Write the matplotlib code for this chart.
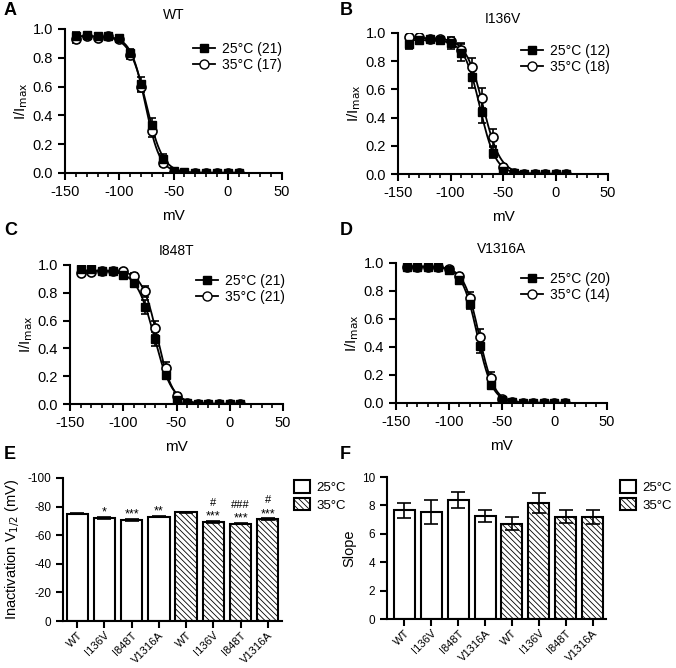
import numpy as np
import matplotlib
matplotlib.use("Agg")
import matplotlib.pyplot as plt
from matplotlib.ticker import MultipleLocator
from matplotlib.patches import Patch

plt.rcParams['font.family'] = ['Liberation Sans', 'DejaVu Sans']
plt.rcParams['hatch.linewidth'] = 0.6
plt.rcParams['axes.unicode_minus'] = False

# voltage steps (mV)
volts = [-140, -130, -120, -110, -100, -90, -80, -70, -60, -50, -40, -30, -20, -10, 0, 10]

# I/Imax, 25 and 35 degC, per channel
wt_25 = [0.95, 0.955, 0.95, 0.95, 0.935, 0.83, 0.62, 0.33, 0.10, 0.015, 0.005, 0, 0, 0, 0, 0]
wt_35 = [0.93, 0.95, 0.94, 0.95, 0.93, 0.82, 0.60, 0.29, 0.07, 0.01, 0, 0, 0, 0, 0, 0]
wt_25_err = [0.03, 0.02, 0.01, 0.01, 0.01, 0.03, 0.05, 0.05, 0.03, 0.01, 0, 0, 0, 0, 0, 0]
wt_35_err = [0.03, 0.02, 0.01, 0.01, 0.01, 0.03, 0.04, 0.04, 0.02, 0.01, 0, 0, 0, 0, 0, 0]

i136v_25 = [0.92, 0.95, 0.955, 0.95, 0.93, 0.86, 0.69, 0.44, 0.15, 0.02, 0.005, 0, 0, 0, 0, 0]
i136v_35 = [0.975, 0.97, 0.96, 0.955, 0.945, 0.88, 0.76, 0.54, 0.26, 0.05, 0.01, 0, 0, 0, 0, 0]
i136v_25_err = [0.03, 0.02, 0.01, 0.02, 0.04, 0.06, 0.08, 0.08, 0.04, 0.01, 0, 0, 0, 0, 0, 0]
i136v_35_err = [0.01, 0.01, 0.01, 0.01, 0.02, 0.05, 0.06, 0.07, 0.06, 0.02, 0, 0, 0, 0, 0, 0]

i848t_25 = [0.97, 0.97, 0.96, 0.96, 0.93, 0.87, 0.70, 0.47, 0.21, 0.03, 0.005, 0, 0, 0, 0, 0]
i848t_35 = [0.945, 0.95, 0.955, 0.96, 0.96, 0.92, 0.81, 0.55, 0.26, 0.06, 0.01, 0, 0, 0, 0, 0]
i848t_25_err = [0.01, 0.01, 0.01, 0.01, 0.02, 0.03, 0.05, 0.05, 0.03, 0.01, 0, 0, 0, 0, 0, 0]
i848t_35_err = [0.01, 0.01, 0.01, 0.01, 0.01, 0.02, 0.04, 0.05, 0.04, 0.02, 0, 0, 0, 0, 0, 0]

v1316a_25 = [0.97, 0.975, 0.975, 0.975, 0.95, 0.88, 0.71, 0.41, 0.13, 0.02, 0.005, 0, 0, 0, 0, 0]
v1316a_35 = [0.97, 0.975, 0.975, 0.975, 0.96, 0.91, 0.75, 0.47, 0.18, 0.03, 0.005, 0, 0, 0, 0, 0]
v1316a_25_err = [0.01, 0.01, 0.01, 0.01, 0.02, 0.03, 0.04, 0.05, 0.03, 0.01, 0, 0, 0, 0, 0, 0]
v1316a_35_err = [0.01, 0.01, 0.01, 0.01, 0.01, 0.02, 0.04, 0.06, 0.04, 0.01, 0, 0, 0, 0, 0, 0]

# bar charts
bar_labels = ['WT', 'I136V', 'I848T', 'V1316A', 'WT', 'I136V', 'I848T', 'V1316A']
vhalf = [-75.0, -72.0, -70.8, -73.0, -75.9, -69.0, -68.0, -71.3]
vhalf_err = [0.4, 0.8, 0.6, 0.4, 0.4, 0.7, 0.5, 0.4]
vhalf_stars = ['', '*', '***', '**', '', '***', '***', '***']
vhalf_hash = ['', '', '', '', '', '#', '###', '#']
slope = [7.65, 7.55, 8.4, 7.25, 6.7, 8.2, 7.2, 7.2]
slope_err = [0.55, 0.85, 0.55, 0.4, 0.45, 0.7, 0.45, 0.5]
top_25 = [0.95, 0.95, 0.96, 0.975]
top_35 = [0.95, 0.965, 0.96, 0.975]

W, H = 676, 668
fig = plt.figure(figsize=(W / 100, H / 100), dpi=100)


def box(l, r, t, b):
    return [l / W, 1 - b / H, (r - l) / W, (b - t) / H]


def boltz(v, vh, k, top):
    return top / (1 + np.exp((v - vh) / k))


def style(ax):
    for s in ['top', 'right']:
        ax.spines[s].set_visible(False)
    for s in ['left', 'bottom']:
        ax.spines[s].set_linewidth(1.5)
    ax.tick_params(direction='out', width=1.5, length=5, labelsize=10.5)
    ax.tick_params(which='minor', direction='out', width=1.2, length=3)


def iv_panel(rect, title, y25, e25, y35, e35, idx, n25, n35, leg_xy):
    ax = fig.add_axes(box(*rect))
    style(ax)
    vv = np.linspace(-140, 10, 300)
    ax.plot(vv, boltz(vv, vhalf[idx], slope[idx], top_25[idx]), color='black', lw=1.3)
    ax.plot(vv, boltz(vv, vhalf[idx + 4], slope[idx + 4], top_35[idx]), color='black', lw=1.3)
    ax.errorbar(volts, y35, yerr=e35, fmt='o', mfc='white', mec='black', mew=1.2,
                ms=6.5, ecolor='black', elinewidth=1.2, capsize=3, capthick=1.2)
    ax.errorbar(volts, y25, yerr=e25, fmt='s', color='black', ms=5.5,
                ecolor='black', elinewidth=1.2, capsize=3, capthick=1.2)
    ax.set_xlim(-150, 50)
    ax.set_ylim(0, 1.0)
    ax.xaxis.set_major_locator(MultipleLocator(50))
    ax.xaxis.set_minor_locator(MultipleLocator(10))
    ax.yaxis.set_major_locator(MultipleLocator(0.2))
    ax.yaxis.set_major_formatter(plt.FormatStrFormatter('%.1f'))
    ax.set_title(title, fontsize=10, pad=7)
    ax.set_xlabel('mV', fontsize=11, labelpad=7)
    ax.set_ylabel('I/I$_{\\mathrm{max}}$', fontsize=11, labelpad=2)
    h1 = plt.Line2D([], [], color='black', marker='s', ms=5.5, lw=1.3)
    h2 = plt.Line2D([], [], color='black', marker='o', mfc='white', ms=6.5, lw=1.3)
    fig.legend([h1, h2], ['25°C (%d)' % n25, '35°C (%d)' % n35], loc='upper left',
               bbox_to_anchor=(leg_xy[0] / W, 1 - leg_xy[1] / H), frameon=False,
               fontsize=10, handlelength=1.6, handletextpad=0.5, borderpad=0,
               labelspacing=0.15, borderaxespad=0)
    return ax


iv_panel((65, 282, 29, 173), 'WT', wt_25, wt_25_err, wt_35, wt_35_err, 0, 21, 17, (193, 42))
iv_panel((398, 608, 33, 174), 'I136V', i136v_25, i136v_25_err, i136v_35, i136v_35_err, 1, 12, 18, (521, 44))
iv_panel((70, 283, 265, 404), 'I848T', i848t_25, i848t_25_err, i848t_35, i848t_35_err, 2, 21, 21, (196, 274))
iv_panel((396, 607, 263, 403), 'V1316A', v1316a_25, v1316a_25_err, v1316a_35, v1316a_35_err, 3, 20, 14, (521, 272))


def bar_panel(rect, vals, errs, ylabel, ylim, yticks, xlim, leg_xy):
    ax = fig.add_axes(box(*rect))
    style(ax)
    x = np.arange(len(vals))
    for i in range(len(vals)):
        hatch = '\\\\\\\\\\\\' if i >= 4 else None
        ax.bar(x[i], vals[i], width=0.78, facecolor='white', edgecolor='black',
               linewidth=1.5, hatch=hatch, zorder=2)
    ax.errorbar(x, vals, yerr=errs, fmt='none', ecolor='black', elinewidth=1.2,
                capsize=5, capthick=1.2, zorder=3)
    ax.set_xlim(*xlim)
    ax.set_ylim(*ylim)
    ax.set_yticks(yticks)
    ax.set_xticks(x)
    ax.set_xticklabels(bar_labels, rotation=45, ha='right', rotation_mode='anchor', fontsize=8)
    ax.tick_params(axis='x', pad=1.5)
    ax.tick_params(axis='y', labelsize=8.5)
    ax.set_ylabel(ylabel, fontsize=10.5, labelpad=4)
    hs = [Patch(facecolor='white', edgecolor='black', lw=1.5),
          Patch(facecolor='white', edgecolor='black', lw=1.5, hatch='\\\\\\\\\\\\')]
    fig.legend(hs, ['25°C', '35°C'], loc='upper left',
               bbox_to_anchor=(leg_xy[0] / W, 1 - leg_xy[1] / H), frameon=False,
               fontsize=9.5, handlelength=1.2, handleheight=1.1, handletextpad=0.5,
               borderpad=0, labelspacing=0.3, borderaxespad=0)
    return ax


axE = bar_panel((63, 282, 478, 621), vhalf, vhalf_err, 'Inactivation V$_{1/2}$ (mV)',
                (0, -100), [0, -20, -40, -60, -80, -100], (-0.52, 7.52), (294, 480))
for i in range(len(vhalf)):
    if vhalf_stars[i]:
        axE.text(i, vhalf[i] - vhalf_err[i] - 1.0, vhalf_stars[i], ha='center', va='baseline', fontsize=9)
    if vhalf_hash[i]:
        axE.text(i, vhalf[i] - vhalf_err[i] - 10.5, vhalf_hash[i], ha='center', va='baseline', fontsize=8)

bar_panel((387, 606, 477, 619), slope, slope_err, 'Slope', (0, 10), [0, 2, 4, 6, 8, 10],
          (-0.65, 7.5), (620, 480))

for lab, xy in [('A', (4, 2)), ('B', (340, 2)), ('C', (4, 222)), ('D', (340, 222)),
                ('E', (4, 446)), ('F', (340, 446))]:
    fig.text(xy[0] / W, 1 - xy[1] / H, lab, fontsize=13, fontweight='bold', va='top', ha='left')

fig.savefig('out.png', dpi=100)
